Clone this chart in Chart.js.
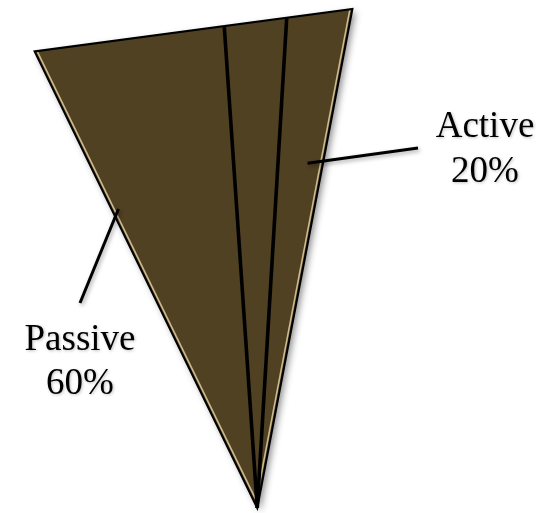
<!DOCTYPE html>
<html><head><meta charset="utf-8">
<script src="https://cdn.jsdelivr.net/npm/chart.js@4"></script>
<style>html,body{margin:0;padding:0;background:#fff}#wrap{width:550px;height:513px}</style>
</head><body><div id="wrap"><canvas id="c" width="550" height="513"></canvas></div>
<script>
// ---- data ----
const categories = ['Passive', '', 'Active'];
const shares = [60, 20, 20];
const shareLabels = ['60%', '', '20%'];

// ---- styles ----
const FILL = '#514123';
const HILITE = '#cdbb8f';
const DEG = Math.PI / 180;

const wedgePlugin = {
  id: 'wedge',
  beforeDatasetsDraw(chart) {
    const arcs = chart.getDatasetMeta(0).data;
    const ctx = chart.ctx;
    const first = arcs[0], last = arcs[arcs.length - 1];
    const cx = first.x, cy = first.y, R = first.outerRadius;
    const a0 = first.startAngle, a1 = last.endAngle;
    const mid = (a0 + a1) / 2, half = (a1 - a0) / 2;
    const rim = a => R * Math.cos(half) / Math.cos(a - mid);
    const pt = (a, d) => [cx + Math.cos(a) * d, cy + Math.sin(a) * d];
    chart.$wedge = {cx, cy, R, rim, pt};
    const P0 = pt(a0, rim(a0)), P1 = pt(a1, rim(a1));
    const whole = () => { ctx.beginPath(); ctx.moveTo(cx, cy); ctx.lineTo(...P0); ctx.lineTo(...P1); ctx.closePath(); };

    // whole wedge with drop shadow
    ctx.save();
    ctx.shadowColor = 'rgba(0,0,0,0.45)';
    ctx.shadowBlur = 7; ctx.shadowOffsetX = 3; ctx.shadowOffsetY = 3;
    whole(); ctx.fillStyle = FILL; ctx.fill();
    ctx.restore();

    // bevel highlight along the two outer edges
    ctx.save();
    whole(); ctx.clip();
    const edgeLine = (a, sign) => {
      const ox = Math.cos(a + sign * Math.PI / 2) * 2.4, oy = Math.sin(a + sign * Math.PI / 2) * 2.4;
      const p = pt(a, rim(a));
      ctx.beginPath(); ctx.moveTo(cx + ox, cy + oy); ctx.lineTo(p[0] + ox, p[1] + oy);
      ctx.strokeStyle = HILITE; ctx.lineWidth = 1.6; ctx.stroke();
    };
    edgeLine(a0, 1);
    edgeLine(a1, -1);
    ctx.restore();

    // outer outline
    ctx.save();
    whole(); ctx.strokeStyle = '#000'; ctx.lineWidth = 2; ctx.lineJoin = 'miter'; ctx.stroke();
    ctx.restore();

    // dividers between slices
    arcs.forEach((arc, i) => {
      if (i === 0) return;
      const s = arc.startAngle;
      const p = pt(s, rim(s));
      ctx.save();
      ctx.beginPath(); ctx.moveTo(cx, cy); ctx.lineTo(p[0], p[1]);
      ctx.strokeStyle = '#000'; ctx.lineWidth = 3.6; ctx.stroke();
      ctx.restore();
    });
    return false;
  },
  afterDraw(chart, args, opts) {
    const w = chart.$wedge; if (!w) return;
    const arcs = chart.getDatasetMeta(0).data;
    const ctx = chart.ctx;
    (opts.layout || []).forEach((L, i) => {
      if (!L || !categories[i]) return;
      const arc = arcs[i];
      const base = L.edge === 'start' ? arc.startAngle : arc.endAngle;
      const a = base + L.angleOffset * DEG;
      const p = w.pt(a, w.R * L.radiusFrac);
      ctx.save();
      ctx.shadowColor = 'rgba(0,0,0,0.35)'; ctx.shadowBlur = 4; ctx.shadowOffsetX = 1.5; ctx.shadowOffsetY = 2;
      ctx.beginPath(); ctx.moveTo(p[0], p[1]); ctx.lineTo(L.lineEnd[0], L.lineEnd[1]);
      ctx.strokeStyle = '#000'; ctx.lineWidth = 3; ctx.lineCap = 'butt'; ctx.stroke();
      ctx.shadowColor = 'rgba(0,0,0,0.25)'; ctx.shadowBlur = 3; ctx.shadowOffsetX = 1; ctx.shadowOffsetY = 1;
      ctx.fillStyle = '#000';
      ctx.font = '37px "Liberation Serif", "DejaVu Serif", serif';
      ctx.textAlign = 'center'; ctx.textBaseline = 'alphabetic';
      ctx.fillText(categories[i], L.text[0], L.text[1]);
      ctx.fillText(shareLabels[i], L.text[0], L.text[1] + L.lineGap);
      ctx.restore();
    });
  }
};

new Chart(document.getElementById('c'), {
  type: 'pie',
  data: {
    labels: categories,
    datasets: [{ data: shares, backgroundColor: FILL, borderWidth: 0 }]
  },
  options: {
    responsive: false,
    animation: false,
    rotation: -26,
    circumference: 36.8,
    layout: { padding: { left: 34, right: 197, top: 0, bottom: 5 } },
    plugins: {
      legend: { display: false },
      tooltip: { enabled: false },
      wedge: {
        layout: [
          { edge: 'start', angleOffset: 1.1, radiusFrac: 0.649, lineEnd: [80, 303], text: [80, 350], lineGap: 44 },
          null,
          { edge: 'end', angleOffset: -2.5, radiusFrac: 0.686, lineEnd: [418, 148], text: [485, 137], lineGap: 45 }
        ]
      }
    },
    events: []
  },
  plugins: [wedgePlugin]
});
</script>
</body></html>
